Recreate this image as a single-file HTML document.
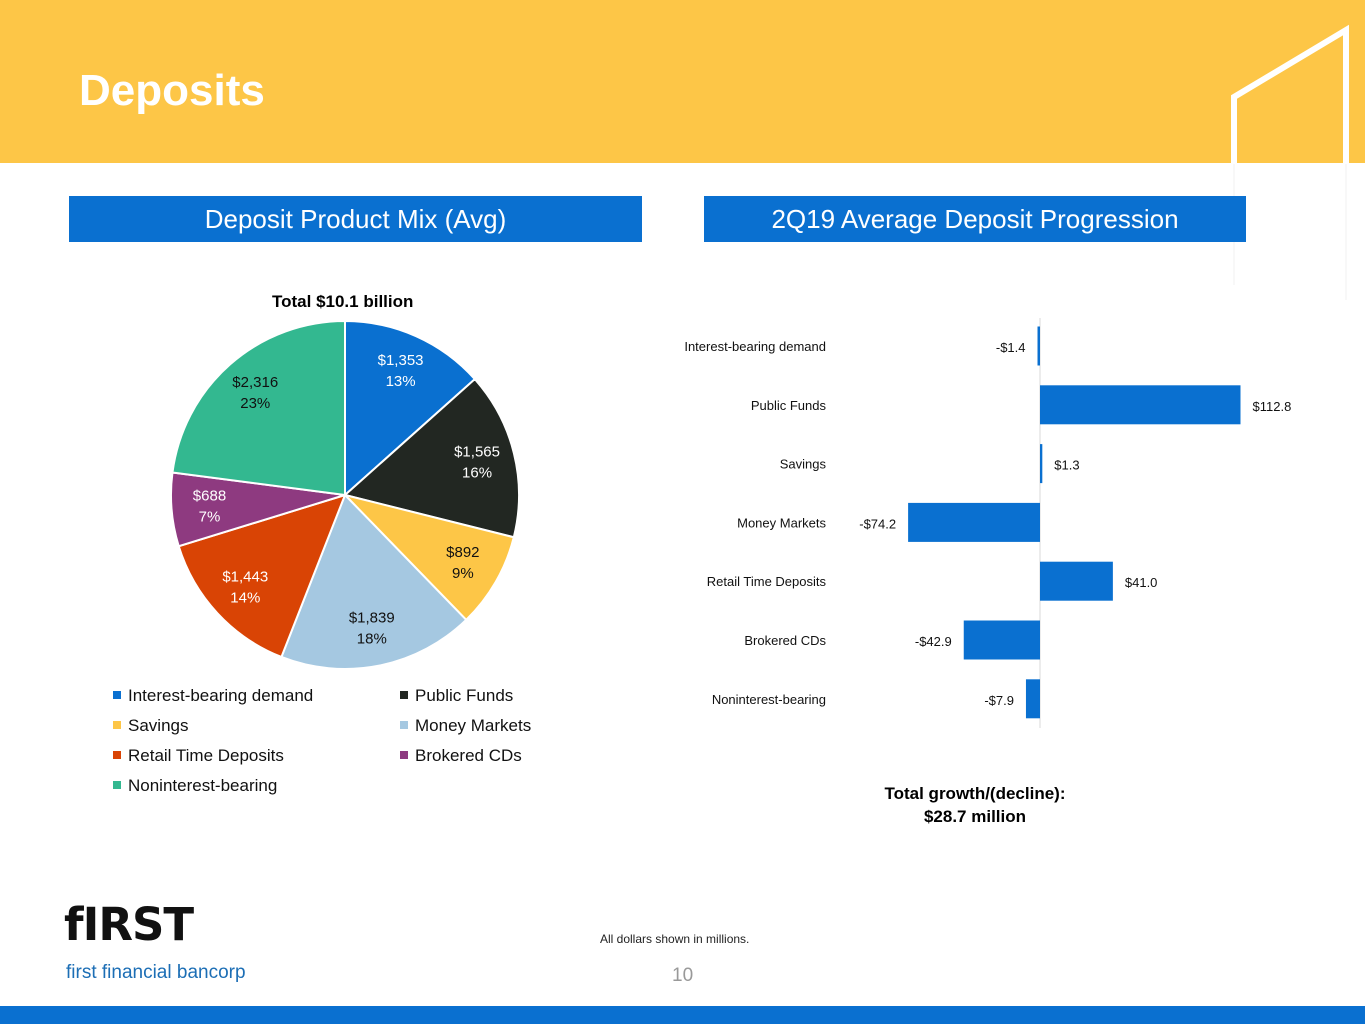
<!DOCTYPE html>
<html><head><meta charset="utf-8"><style>
body{margin:0;width:1365px;height:1024px;position:relative;background:#fff;font-family:"Liberation Sans",sans-serif;overflow:hidden}
.abs{position:absolute}
.hdrbox{position:absolute;top:196px;height:46px;background:#0A70D0;color:#fff;font-size:26px;line-height:46px;text-align:center}
.leg{position:absolute;font-size:17px;color:#111;white-space:nowrap}
.leg span{display:inline-block;width:8px;height:8px;margin-right:7px;vertical-align:2px}
</style></head><body>
<div class="abs" style="left:0;top:0;width:1365px;height:163px;background:#FDC647"></div>
<svg class="abs" style="left:1150px;top:0" width="215" height="300">
<polyline points="84,164 84,97 196,30 196,164" fill="none" stroke="#fff" stroke-width="6"/>
<line x1="84" y1="164" x2="84" y2="285" stroke="#f8f8f8" stroke-width="2"/>
<line x1="196" y1="164" x2="196" y2="300" stroke="#f8f8f8" stroke-width="2"/>
</svg>
<div class="abs" style="left:79px;top:66px;font-size:44px;font-weight:bold;color:#fff">Deposits</div>
<div class="hdrbox" style="left:69px;width:573px">Deposit Product Mix (Avg)</div>
<div class="hdrbox" style="left:704px;width:542px">2Q19 Average Deposit Progression</div>
<div class="abs" style="left:272px;top:292px;font-size:17px;font-weight:bold;color:#000">Total $10.1 billion</div>

<svg class="abs" id="pie" style="left:0;top:0" width="700" height="690"></svg>

<div class="leg" style="left:113px;top:686px"><span style="background:#0A70D0"></span>Interest-bearing demand</div>
<div class="leg" style="left:400px;top:686px"><span style="background:#222722"></span>Public Funds</div>
<div class="leg" style="left:113px;top:716px"><span style="background:#FDC647"></span>Savings</div>
<div class="leg" style="left:400px;top:716px"><span style="background:#A5C8E1"></span>Money Markets</div>
<div class="leg" style="left:113px;top:746px"><span style="background:#D94405"></span>Retail Time Deposits</div>
<div class="leg" style="left:400px;top:746px"><span style="background:#8E3A80"></span>Brokered CDs</div>
<div class="leg" style="left:113px;top:776px"><span style="background:#33B890"></span>Noninterest-bearing</div>

<svg class="abs" id="bars" style="left:0;top:0" width="1365" height="760"></svg>

<div class="abs" style="left:850px;top:782px;width:250px;text-align:center;font-size:17px;font-weight:bold;line-height:23px;color:#000">Total growth/(decline):<br>$28.7 million</div>

<div class="abs" style="left:64px;top:898px;font-size:45px;font-weight:900;color:#111;letter-spacing:-1px;font-family:'DejaVu Sans',sans-serif">fIRST</div>
<div class="abs" style="left:66px;top:962px;font-size:19px;color:#1C6EB5">first financial bancorp</div>
<div class="abs" style="left:600px;top:932px;font-size:12px;color:#222">All dollars shown in millions.</div>
<div class="abs" style="left:672px;top:965px;font-size:19px;color:#999">10</div>
<div class="abs" style="left:0;top:1006px;width:1365px;height:18px;background:#0A70D0"></div>

<script>
const pieCategories=["Interest-bearing demand","Public Funds","Savings","Money Markets","Retail Time Deposits","Brokered CDs","Noninterest-bearing"];
const pieValues=[1353,1565,892,1839,1443,688,2316];
const pieLabels=["$1,353","$1,565","$892","$1,839","$1,443","$688","$2,316"];
const piePct=["13%","16%","9%","18%","14%","7%","23%"];
const pieColors=["#0A70D0","#222722","#FDC647","#A5C8E1","#D94405","#8E3A80","#33B890"];
const pieTextColors=["#fff","#fff","#111","#111","#fff","#fff","#111"];
const barCategories=["Interest-bearing demand","Public Funds","Savings","Money Markets","Retail Time Deposits","Brokered CDs","Noninterest-bearing"];
const barValues=[-1.4,112.8,1.3,-74.2,41.0,-42.9,-7.9];
const barLabels=["-$1.4","$112.8","$1.3","-$74.2","$41.0","-$42.9","-$7.9"];
const NS="http://www.w3.org/2000/svg";
function mk(p,t,a){const e=document.createElementNS(NS,t);for(const k in a)e.setAttribute(k,a[k]);p.appendChild(e);return e;}
const pie=document.getElementById('pie');
const cx=345,cy=495,R=174,LR=136;
const tot=pieValues.reduce((a,b)=>a+b,0);
let cum=0;
function pt(f,r){const a=f*2*Math.PI;return [cx+r*Math.sin(a),cy-r*Math.cos(a)];}
pieValues.forEach((v,i)=>{
 const f0=cum/tot,f1=(cum+v)/tot;cum+=v;
 const [x0,y0]=pt(f0,R),[x1,y1]=pt(f1,R);
 const s=mk(pie,'path',{d:`M${cx},${cy}L${x0},${y0}A${R},${R} 0 ${f1-f0>0.5?1:0} 1 ${x1},${y1}Z`,fill:pieColors[i],stroke:'#fff','stroke-width':2});
 
 
 const [lx,ly]=pt((f0+f1)/2,LR);
 const t1=mk(pie,'text',{x:lx,y:ly-6,'text-anchor':'middle','font-size':15,fill:pieTextColors[i]});
 t1.textContent=pieLabels[i];
 
 
 const t2=mk(pie,'text',{x:lx,y:ly+15,'text-anchor':'middle','font-size':15,fill:pieTextColors[i]});
 t2.textContent=piePct[i];
 
 
});
const bars=document.getElementById('bars');
const x0=1040,scale=200.5/112.8,rowTop=346,rowStep=58.8,bh=39;
const xs=v=>x0+v*scale;
const zl=mk(bars,'line',{x1:x0,x2:x0,y1:318,y2:728,stroke:'#d9d9d9','stroke-width':1});


barValues.forEach((v,i)=>{
 const cyb=rowTop+i*rowStep;
 const xa=Math.min(xs(0),xs(v)),w=Math.max(Math.abs(xs(v)-xs(0)),2);
 const r=mk(bars,'rect',{x:xa,y:cyb-bh/2,width:w,height:bh,fill:'#0A70D0'});
 
 
 const c=mk(bars,'text',{x:826,y:cyb+5,'text-anchor':'end','font-size':13,fill:'#111'});
 c.textContent=barCategories[i];
 
 
 const vl=mk(bars,'text',{x:v>=0?xs(v)+12:xs(v)-12,y:cyb+6,'text-anchor':v>=0?'start':'end','font-size':13,fill:'#111'});
 vl.textContent=barLabels[i];
 
 
});
</script>
</body></html>
